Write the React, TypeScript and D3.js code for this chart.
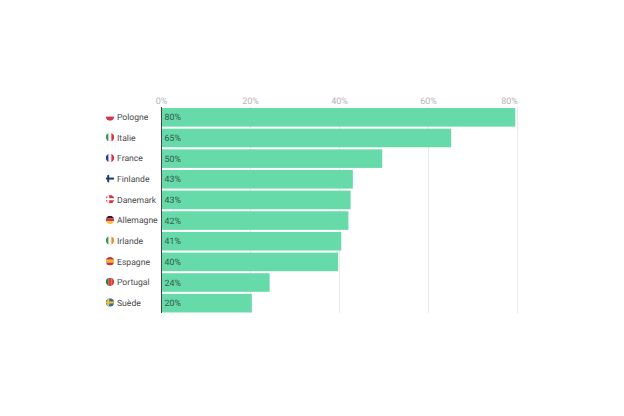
import React from "react";
import * as d3 from "d3";

const countries = ["Pologne", "Italie", "France", "Finlande", "Danemark", "Allemagne", "Irlande", "Espagne", "Portugal", "Suède"];
const barValues = [79.5, 65.1, 49.6, 43, 42.5, 42, 40.4, 39.7, 24.3, 20.3];
const valueLabels = ["80%", "65%", "50%", "43%", "43%", "42%", "41%", "40%", "24%", "20%"];
const tickValues = [0, 20, 40, 60, 80];

type Flag = { dir: "h" | "v" | "cross"; colors: string[] };
const flags: Flag[] = [
  { dir: "h", colors: ["#ffffff", "#d8334a"] },
  { dir: "v", colors: ["#2f9b58", "#f4f4f4", "#d8334a"] },
  { dir: "v", colors: ["#1d3f94", "#f4f4f4", "#d8334a"] },
  { dir: "cross", colors: ["#ffffff", "#1d3f78"] },
  { dir: "cross", colors: ["#d8334a", "#ffffff"] },
  { dir: "h", colors: ["#222222", "#d8334a", "#f5c32c"] },
  { dir: "v", colors: ["#2f9b58", "#f4f4f4", "#ee8a34"] },
  { dir: "h", colors: ["#c8353a", "#f0b92c", "#c8353a"] },
  { dir: "v", colors: ["#2e7d46", "#d8433a", "#d8433a"] },
  { dir: "cross", colors: ["#2a6db0", "#f5c32c"] },
];

const FONT = "Roboto, sans-serif";

function FlagIcon({ flag, id, cx, cy, r }: { flag: Flag; id: string; cx: number; cy: number; r: number }) {
  const d = r * 2;
  const x0 = cx - r;
  const y0 = cy - r;
  let body: React.ReactNode;
  if (flag.dir === "cross") {
    const w = 2;
    body = (
      <>
        <rect x={x0} y={y0} width={d} height={d} fill={flag.colors[0]} />
        <rect x={x0} y={cy - w / 2} width={d} height={w} fill={flag.colors[1]} />
        <rect x={cx - 1.8 - w / 2} y={y0} width={w} height={d} fill={flag.colors[1]} />
      </>
    );
  } else {
    const band = d3.scaleBand<number>().domain(d3.range(flag.colors.length)).range([0, d]);
    body = flag.colors.map((c, i) =>
      flag.dir === "h" ? (
        <rect key={i} x={x0} y={y0 + band(i)!} width={d} height={band.bandwidth()} fill={c} />
      ) : (
        <rect key={i} x={x0 + band(i)!} y={y0} width={band.bandwidth()} height={d} fill={c} />
      )
    );
  }
  return (
    <g>
      <clipPath id={id}>
        <circle cx={cx} cy={cy} r={r} />
      </clipPath>
      <g clipPath={`url(#${id})`}>{body}</g>
    </g>
  );
}

export default function App() {
  const x = d3.scaleLinear().domain([0, 80]).range([161.5, 517.5]);
  const y = d3.scaleBand<string>().domain(countries).range([107, 313.5]).paddingInner(0.1).paddingOuter(0.05);
  const top = 107;
  const bottom = 313;
  return (
    <svg width={624} height={416} style={{ position: "absolute", left: 0, top: 0, background: "#fff" }} fontFamily={FONT} textRendering="geometricPrecision">
      {tickValues.map((t) => (
        <g key={t}>
          {t > 0 && <line x1={x(t)} x2={x(t)} y1={top} y2={bottom} stroke="#e9e9e9" strokeWidth={1} />}
          <text x={t === 80 ? x(t) - 8 : x(t)} y={103.5} fontSize={9} fill="#b5b5b5" textAnchor="middle">
            {t}%
          </text>
        </g>
      ))}
      {countries.map((c, i) => {
        const by = y(c)!;
        const h = y.bandwidth();
        const cy = by + h / 2;
        return (
          <g key={c}>
            <rect x={x(0)} y={by} width={x(barValues[i]) - x(0)} height={h} fill="#66daa9" />
            <text x={164.5} y={cy + 3} fontSize={8.8} fill="#35594a">
              {valueLabels[i]}
            </text>
            <FlagIcon flag={flags[i]} id={`flag-${i}`} cx={110} cy={cy - 0.7} r={4.2} />
            <text x={117} y={cy + 2.8} fontSize={8.6} fill="#4a4a4a">
              {c}
            </text>
          </g>
        );
      })}
      <line x1={x(0)} x2={x(0)} y1={top} y2={bottom} stroke="#444444" strokeWidth={1} />
    </svg>
  );
}
